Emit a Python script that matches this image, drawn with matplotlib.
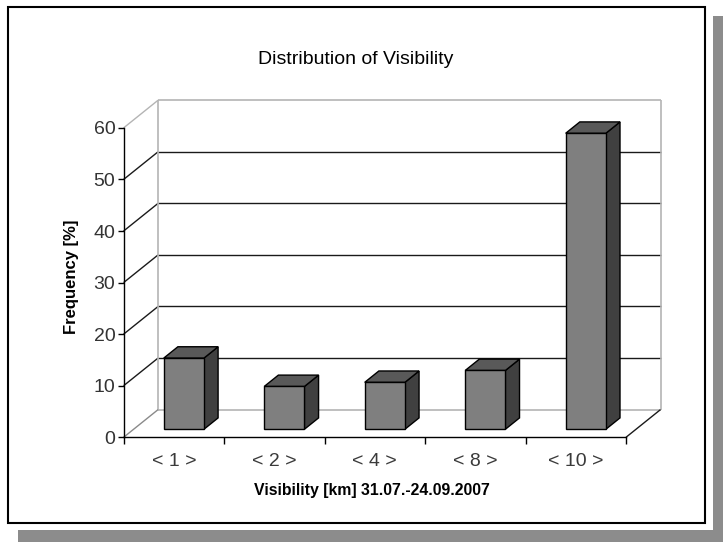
import matplotlib
matplotlib.use("Agg")
import matplotlib.pyplot as plt
from matplotlib.patches import Rectangle, Polygon

categories = ["< 1 >", "< 2 >", "< 4 >", "< 8 >", "< 10 >"]
frequency = [13.8, 8.3, 9.1, 11.4, 57.4]
y_ticks = [0, 10, 20, 30, 40, 50, 60]
title = "Distribution of Visibility"
xlabel = "Visibility [km] 31.07.-24.09.2007"
ylabel = "Frequency [%]"

plt.rcParams['font.family'] = ['Liberation Sans', 'DejaVu Sans']

W, H = 723, 542
fig = plt.figure(figsize=(W / 100, H / 100), dpi=100)
fig.patch.set_facecolor('white')

# drop shadow and frame
shadow = '#8c8c8c'
fig.patches.append(Rectangle((713 / W, 0), 10 / W, (542 - 16) / H,
                             transform=fig.transFigure, facecolor=shadow, edgecolor='none', zorder=-3))
fig.patches.append(Rectangle((18 / W, 0), (723 - 18) / W, 12 / H,
                             transform=fig.transFigure, facecolor=shadow, edgecolor='none', zorder=-3))
fig.patches.append(Rectangle((8 / W, 1 - 523 / H), 697 / W, 516 / H,
                             transform=fig.transFigure, facecolor='white', edgecolor='black',
                             linewidth=1.5, zorder=-2))

# axes = front plane of the 3D box
x0, x1 = 123.6, 626.0
y0, y1 = 437.3, 127.9
ax = fig.add_axes([x0 / W, 1 - y0 / H, (x1 - x0) / W, (y0 - y1) / H])
ax.set_zorder(1)
ax.patch.set_visible(False)
n = len(categories)
ymax = y_ticks[-1]
ax.set_xlim(0, n)
ax.set_ylim(0, ymax)

# depth offset (data units)
DX = 34.5 / ((x1 - x0) / n)
DY = 27.7 / ((y0 - y1) / ymax)

dark = '#1a1a1a'
light = '#b4b4b4'
mid = '#8a8a8a'
kw = dict(clip_on=False, solid_capstyle='butt')

# back wall gridlines and left wall diagonals
for t in y_ticks[1:-1]:
    ax.plot([DX, n + DX], [t + DY, t + DY], color=dark, lw=1.0, zorder=1, **kw)
    ax.plot([0, DX], [t, t + DY], color=dark, lw=1.0, zorder=1, **kw)
# box edges
ax.plot([DX, n + DX], [DY, DY], color=light, lw=1.2, zorder=1, **kw)
ax.plot([DX, n + DX], [ymax + DY, ymax + DY], color=light, lw=1.2, zorder=1, **kw)
ax.plot([DX, DX], [DY, ymax + DY], color=light, lw=1.2, zorder=1, **kw)
ax.plot([n + DX, n + DX], [DY, ymax + DY], color=light, lw=1.2, zorder=1, **kw)
ax.plot([0, DX], [ymax, ymax + DY], color=light, lw=1.0, zorder=1, **kw)
ax.plot([0, DX], [0, DY], color=mid, lw=1.0, zorder=1, **kw)
ax.plot([n, n + DX], [0, DY], color=dark, lw=1.0, zorder=1, **kw)

# bars with pseudo-3D side and top faces
d0, d1 = 0.29, 0.70
bw = 0.4
base = d0 * DY
centers = [i + 0.5 + d0 * DX for i in range(n)]
ax.bar(centers, frequency, width=bw, bottom=base, color='#7f7f7f',
       edgecolor='black', linewidth=1.0, zorder=4, clip_on=False)
ddx, ddy = (d1 - d0) * DX, (d1 - d0) * DY
for c, v in zip(centers, frequency):
    xl, xr = c - bw / 2, c + bw / 2
    top = base + v
    side = Polygon([(xr, base), (xr + ddx, base + ddy), (xr + ddx, top + ddy), (xr, top)],
                   closed=True, facecolor='#404040', edgecolor='black', lw=1.0, zorder=3, clip_on=False)
    cap = Polygon([(xl, top), (xr, top), (xr + ddx, top + ddy), (xl + ddx, top + ddy)],
                  closed=True, facecolor='#595959', edgecolor='black', lw=1.0, zorder=3, clip_on=False)
    ax.add_patch(side)
    ax.add_patch(cap)

# axes styling
for s in ['top', 'right']:
    ax.spines[s].set_visible(False)
for s in ['left', 'bottom']:
    ax.spines[s].set_color('black')
    ax.spines[s].set_linewidth(1.0)
    ax.spines[s].set_zorder(5)

ax.set_yticks(y_ticks)
ax.set_yticklabels([str(t) for t in y_ticks])
ax.tick_params(axis='y', direction='out', length=4, width=1, color='black',
               labelsize=14, labelcolor='#333333', pad=2)
ax.set_xticks([i + 0.5 for i in range(n)])
ax.set_xticklabels(categories)
ax.set_xticks(list(range(n + 1)), minor=True)
ax.tick_params(axis='x', which='major', length=0, labelsize=14, labelcolor='#3a3a3a', pad=11)
ax.tick_params(axis='x', which='minor', direction='out', length=5, width=1, color='black')

fig.text(356 / W, 1 - 59 / H, title, ha='center', va='center', fontsize=14, color='black')
fig.text(372 / W, 1 - 490 / H, xlabel, ha='center', va='center', fontsize=11.4,
         fontweight='bold', color='black')
fig.text(71.5 / W, 1 - 277 / H, ylabel, ha='center', va='center', rotation=90,
         fontsize=12, fontweight='bold', color='black')

fig.savefig('out.png', dpi=100)
